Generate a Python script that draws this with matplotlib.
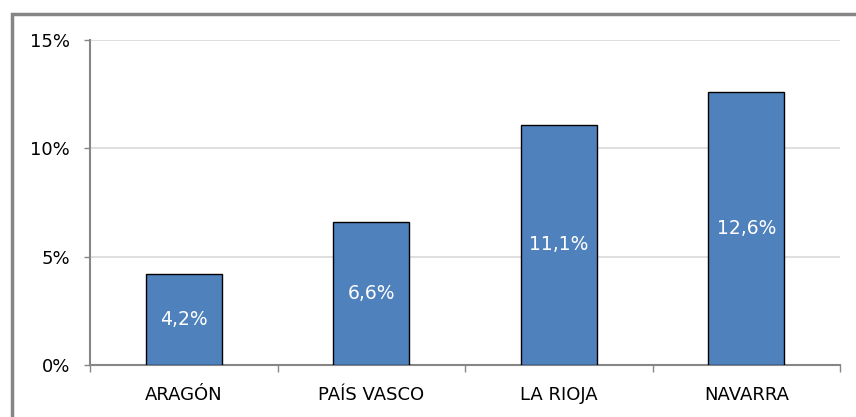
import matplotlib
matplotlib.use("Agg")
import matplotlib.pyplot as plt
from matplotlib.patches import Rectangle
import numpy as np

categories = ["ARAGÓN", "PAÍS VASCO", "LA RIOJA", "NAVARRA"]
values = [4.2, 6.6, 11.1, 12.6]
labels = ["4,2%", "6,6%", "11,1%", "12,6%"]
yticks = [0, 5, 10, 15]
yticklabels = ["0%", "5%", "10%", "15%"]

W, H = 856, 417
fig = plt.figure(figsize=(W / 100, H / 100), dpi=100)
plt.rcParams['font.family'] = ['DejaVu Sans']

# outer border
fig.patches.append(Rectangle((12 / W, -0.1), 1.2, (H - 14) / H + 0.1, transform=fig.transFigure,
                             fill=False, edgecolor='#858585', linewidth=2.5))

ax = fig.add_axes([90 / W, 1 - 365 / H, (840 - 90) / W, (365 - 40) / H])
x = np.arange(len(categories))
ax.bar(x, values, width=0.405, color='#4F81BD', edgecolor='black', linewidth=1.0, zorder=3)
for xi, v, lab in zip(x, values, labels):
    ax.text(xi, v / 2, lab, ha='center', va='center', color='white', fontsize=13.5,
            zorder=4)

ax.set_xlim(-0.5, len(categories) - 0.5)
ax.set_ylim(0, 15)
ax.set_yticks(yticks)
ax.set_yticklabels(yticklabels, fontsize=13)
ax.set_xticks(x)
ax.set_xticklabels(categories, fontsize=13)
ax.set_xticks(np.arange(-0.5, len(categories)), minor=True)
ax.tick_params(axis='x', which='major', length=0, pad=15)
ax.tick_params(axis='x', which='minor', length=5, color='#868686', width=1.0, direction='out')
ax.tick_params(axis='y', length=4.3, color='#868686', width=1.0, pad=10)
ax.grid(axis='y', color='#d9d9d9', linewidth=1.2, zorder=0)
for s in ['top', 'right']:
    ax.spines[s].set_visible(False)
ax.spines['left'].set_color('#868686')
ax.spines['bottom'].set_color('#868686')
ax.spines['left'].set_linewidth(1.5)
ax.spines['bottom'].set_linewidth(1.5)
ax.set_axisbelow(True)

fig.savefig("out.png", dpi=100)
